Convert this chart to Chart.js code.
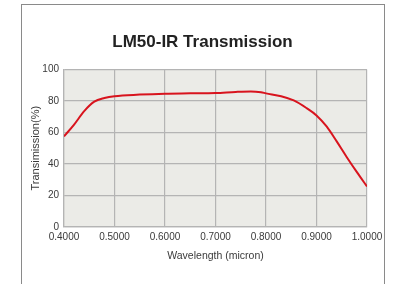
<!DOCTYPE html>
<html>
<head>
<meta charset="utf-8">
<script src="https://cdn.jsdelivr.net/npm/chart.js@4/dist/chart.umd.min.js"></script>
<style>
    html, body { margin: 0; padding: 0; background: #fff; }
    #wrap { position: relative; width: 401px; height: 284px; overflow: hidden; }
    #frame {
        position: absolute; left: 21px; top: 4px; width: 362px; height: 300px;
        border: 1.5px solid #8a8a8a;
    }
    #chartBox { position: absolute; left: 0; top: 0; width: 401px; height: 284px; }
</style>
</head>
<body>
<div id="wrap">
    <div id="frame"></div>
    <div id="chartBox"><canvas id="transChart"></canvas></div>
</div>
<script>
// wavelength in micron, transmission in %
const wavelength = [0.40, 0.42, 0.44, 0.46, 0.48, 0.50, 0.55, 0.60, 0.65, 0.70, 0.74, 0.77, 0.79, 0.80, 0.83, 0.855, 0.88, 0.90, 0.92, 0.94, 0.96, 0.98, 1.00];
const transmission = [57.5, 65, 73.5, 79.5, 81.8, 83, 84, 84.6, 84.8, 85, 85.7, 86, 85.5, 84.8, 83, 80.3, 75.5, 70.8, 63.8, 54.3, 44.3, 34.8, 25.7];

const xTicks = [0.4, 0.5, 0.6, 0.7, 0.8, 0.9, 1.0];
const xTickLabels = ['0.4000', '0.5000', '0.6000', '0.7000', '0.8000', '0.9000', '1.0000'];
const yTicks = [0, 20, 40, 60, 80, 100];

const points = wavelength.map((w, i) => ({ x: w, y: transmission[i] }));

const plotBg = {
    id: 'plotBg',
    beforeDraw(chart) {
        const { ctx, chartArea } = chart;
        ctx.save();
        ctx.fillStyle = '#ebebe7';
        ctx.fillRect(chartArea.left, chartArea.top, chartArea.right - chartArea.left, chartArea.bottom - chartArea.top);
        ctx.restore();
    }
};

const gridColor = '#b4b4b4';
const textColor = '#3a3a3a';
const fontFamily = 'Liberation Sans, Arial, sans-serif';

new Chart(document.getElementById('transChart'), {
    type: 'scatter',
    data: {
        datasets: [{
            label: 'LM50-IR',
            data: points,
            showLine: true,
            borderColor: '#d8141e',
            borderWidth: 2,
            pointRadius: 0,
            cubicInterpolationMode: 'monotone'
        }]
    },
    options: {
        responsive: true,
        maintainAspectRatio: false,
        animation: false,
        layout: { padding: { left: 38, right: 34, top: 0, bottom: 22 } },
        plugins: {
            legend: { display: false },
            tooltip: { enabled: false },
            title: {
                display: true,
                text: 'LM50-IR Transmission',
                color: '#222',
                font: { family: fontFamily, size: 17, weight: 'bold' },
                padding: { top: 32, bottom: 17 }
            }
        },
        scales: {
            x: {
                type: 'linear',
                min: 0.4,
                max: 1.0,
                afterBuildTicks: s => { s.ticks = xTicks.map(v => ({ value: v })); },
                afterFit: s => { s.height = 35; },
                ticks: {
                    callback: (v, i) => xTickLabels[i],
                    color: textColor,
                    padding: 4,
                    maxRotation: 0,
                    font: { family: fontFamily, size: 10 }
                },
                grid: { color: gridColor, lineWidth: 1.2, drawTicks: false },
                border: { color: gridColor, width: 1.2 },
                title: {
                    display: true,
                    text: 'Wavelength (micron)',
                    color: textColor,
                    font: { family: fontFamily, size: 10.5 },
                    padding: { top: 4, bottom: 0 }
                }
            },
            y: {
                min: 0,
                max: 100,
                afterBuildTicks: s => { s.ticks = yTicks.map(v => ({ value: v })); },
                afterFit: s => { s.width = 26; },
                ticks: {
                    color: textColor,
                    padding: 5,
                    font: { family: fontFamily, size: 10 }
                },
                grid: { color: gridColor, lineWidth: 1.2, drawTicks: false },
                border: { color: gridColor, width: 1.2 },
                title: {
                    display: true,
                    text: 'Transimission(%)',
                    color: textColor,
                    font: { family: fontFamily, size: 11 },
                    padding: { top: -9, bottom: 0 }
                }
            }
        }
    },
    plugins: [plotBg]
});
</script>
</body>
</html>
